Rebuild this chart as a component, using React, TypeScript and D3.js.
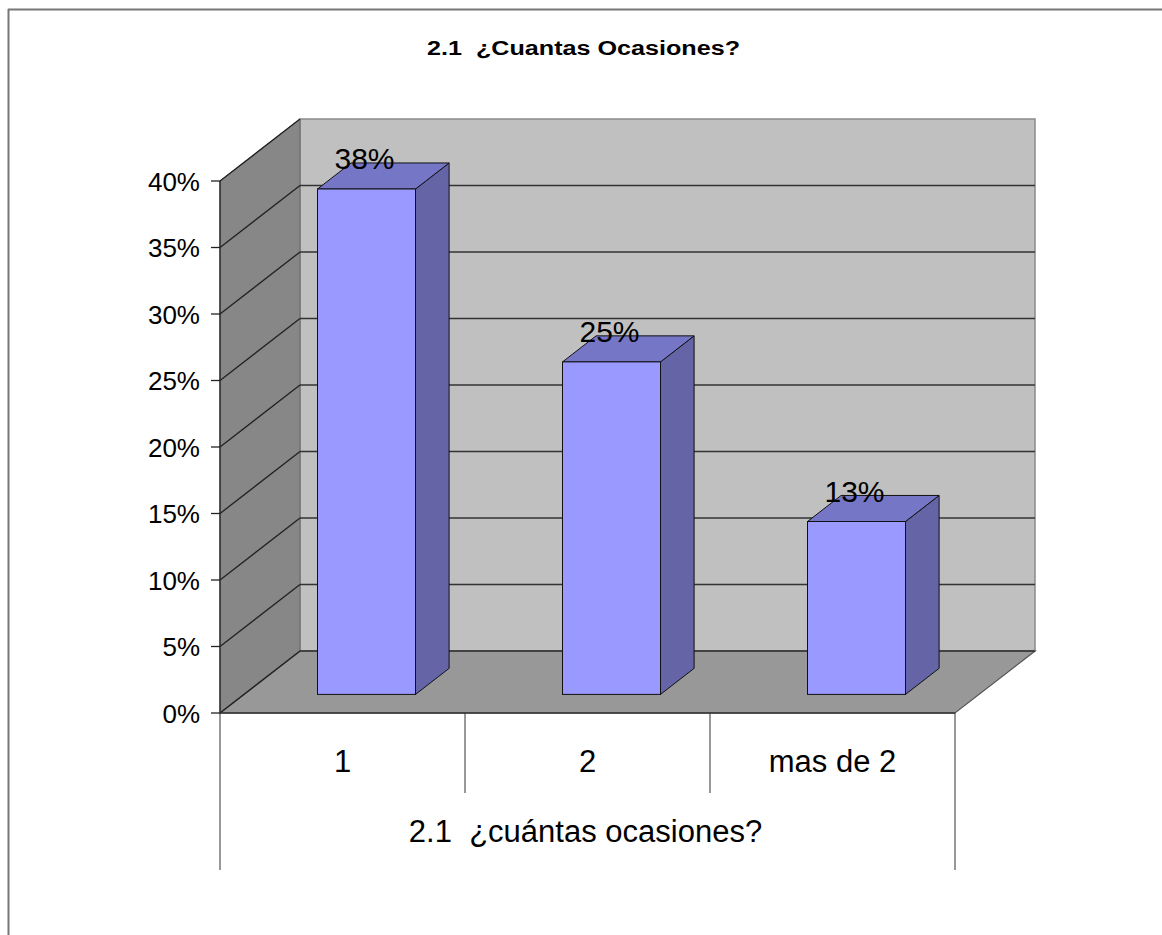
import React from "react";
import * as d3 from "d3";

const categories: string[] = ["1", "2", "mas de 2"];
const values: number[] = [0.38, 0.25, 0.13];
const valueLabels: string[] = ["38%", "25%", "13%"];
const yTicks: number[] = [0, 0.05, 0.1, 0.15, 0.2, 0.25, 0.3, 0.35, 0.4];
const title = "2.1  ¿Cuantas Ocasiones?";
const axisTitle = "2.1  ¿cuántas ocasiones?";

const W = 1162;
const H = 935;
const FONT = "'Liberation Sans', Arial, sans-serif";

export default function App() {
  const left = 220;
  const right = 955;
  const bottom = 713;
  const top = 181;
  const DX = 80;
  const DY = -62;

  const y = d3.scaleLinear().domain([0, 0.4]).range([bottom, top]);
  const x = d3.scaleBand<string>().domain(categories).range([left, right]);
  const bw = x.bandwidth();
  const barW = bw * 0.4;
  const dFront = 0.3;
  const dDepth = 0.42;

  const pts = (arr: [number, number][]) => arr.map((p) => p.join(",")).join(" ");

  const backWall = pts([
    [left + DX, y(0.4) + DY],
    [right + DX, y(0.4) + DY],
    [right + DX, y(0) + DY],
    [left + DX, y(0) + DY],
  ]);
  const leftWall = pts([
    [left, y(0.4)],
    [left + DX, y(0.4) + DY],
    [left + DX, y(0) + DY],
    [left, y(0)],
  ]);
  const floor = pts([
    [left, y(0)],
    [left + DX, y(0) + DY],
    [right + DX, y(0) + DY],
    [right, y(0)],
  ]);

  return (
    <svg
      width={W}
      height={H}
      style={{ position: "absolute", left: 0, top: 0, display: "block", background: "#fff" }}
    >
      {/* frame */}
      <line x1={8} y1={9.5} x2={W} y2={9.5} stroke="#777" strokeWidth={2} />
      <line x1={8.5} y1={9} x2={8.5} y2={H} stroke="#777" strokeWidth={2} />

      {/* title */}
      <text
        x={583.5}
        y={55}
        textAnchor="middle"
        fontFamily={FONT}
        fontWeight="bold"
        fontSize={20}
        textLength={313}
        lengthAdjust="spacingAndGlyphs"
        style={{ whiteSpace: "pre" }}
      >
        {title}
      </text>

      {/* walls */}
      <polygon points={backWall} fill="#C0C0C0" stroke="#8a8a8a" strokeWidth={1.5} />
      <polygon points={leftWall} fill="#878787" stroke="#666" strokeWidth={1} />
      <polygon points={floor} fill="#989898" stroke="#555" strokeWidth={1.2} />

      {/* gridlines */}
      {yTicks.map((t) => (
        <g key={"g" + t}>
          {t < 0.4 && (
            <line
              x1={left + DX}
              y1={y(t) + DY}
              x2={right + DX}
              y2={y(t) + DY}
              stroke="#333"
              strokeWidth={1.6}
            />
          )}
          <line
            x1={left}
            y1={y(t)}
            x2={left + DX}
            y2={y(t) + DY}
            stroke="#222"
            strokeWidth={1.3}
          />
        </g>
      ))}

      {/* y axis */}
      <line x1={left} y1={y(0.4)} x2={left} y2={y(0)} stroke="#222" strokeWidth={1.3} />
      {yTicks.map((t) => (
        <g key={"t" + t}>
          <line x1={left - 9} y1={y(t)} x2={left} y2={y(t)} stroke="#222" strokeWidth={1.3} />
          <text
            x={left - 20}
            y={y(t) + 9.5}
            textAnchor="end"
            fontFamily={FONT}
            fontSize={26}
            fill="#000"
          >
            {d3.format(".0%")(t)}
          </text>
        </g>
      ))}

      {/* bars */}
      {categories.map((c, i) => {
        const fx0 = (x(c) as number) + bw / 2 - barW / 2 + dFront * DX;
        const fx1 = fx0 + barW;
        const fyB = y(0) + dFront * DY;
        const fyT = y(values[i]) + dFront * DY;
        const ddx = dDepth * DX;
        const ddy = dDepth * DY;
        return (
          <g key={c}>
            <polygon
              points={pts([
                [fx1, fyT],
                [fx1 + ddx, fyT + ddy],
                [fx1 + ddx, fyB + ddy],
                [fx1, fyB],
              ])}
              fill="#6464A6"
              stroke="#111"
              strokeWidth={1}
              strokeLinejoin="round"
            />
            <polygon
              points={pts([
                [fx0, fyT],
                [fx0 + ddx, fyT + ddy],
                [fx1 + ddx, fyT + ddy],
                [fx1, fyT],
              ])}
              fill="#7676C6"
              stroke="#111"
              strokeWidth={1}
              strokeLinejoin="round"
            />
            <rect
              x={fx0}
              y={fyT}
              width={barW}
              height={fyB - fyT}
              fill="#9999FF"
              stroke="#111"
              strokeWidth={1}
            />
            <text
              x={(fx0 + fx1) / 2 - 2}
              y={fyT - 20}
              textAnchor="middle"
              fontFamily={FONT}
              fontSize={30}
              fill="#000"
            >
              {valueLabels[i]}
            </text>
          </g>
        );
      })}

      {/* category axis */}
      <line x1={left} y1={bottom} x2={right} y2={bottom} stroke="#333" strokeWidth={1.3} />
      <line x1={left} y1={bottom} x2={left} y2={870} stroke="#333" strokeWidth={1} />
      <line x1={right} y1={bottom} x2={right} y2={870} stroke="#333" strokeWidth={1} />
      {categories.slice(1).map((c) => (
        <line
          key={"s" + c}
          x1={x(c) as number}
          y1={bottom}
          x2={x(c) as number}
          y2={793}
          stroke="#333"
          strokeWidth={1}
        />
      ))}
      {categories.map((c) => (
        <text
          key={"c" + c}
          x={(x(c) as number) + bw / 2}
          y={772}
          textAnchor="middle"
          fontFamily={FONT}
          fontSize={31}
          fill="#000"
        >
          {c}
        </text>
      ))}
      <text
        x={(left + right) / 2 - 2}
        y={842}
        textAnchor="middle"
        fontFamily={FONT}
        fontSize={31}
        fill="#000"
        style={{ whiteSpace: "pre" }}
      >
        {axisTitle}
      </text>
    </svg>
  );
}
